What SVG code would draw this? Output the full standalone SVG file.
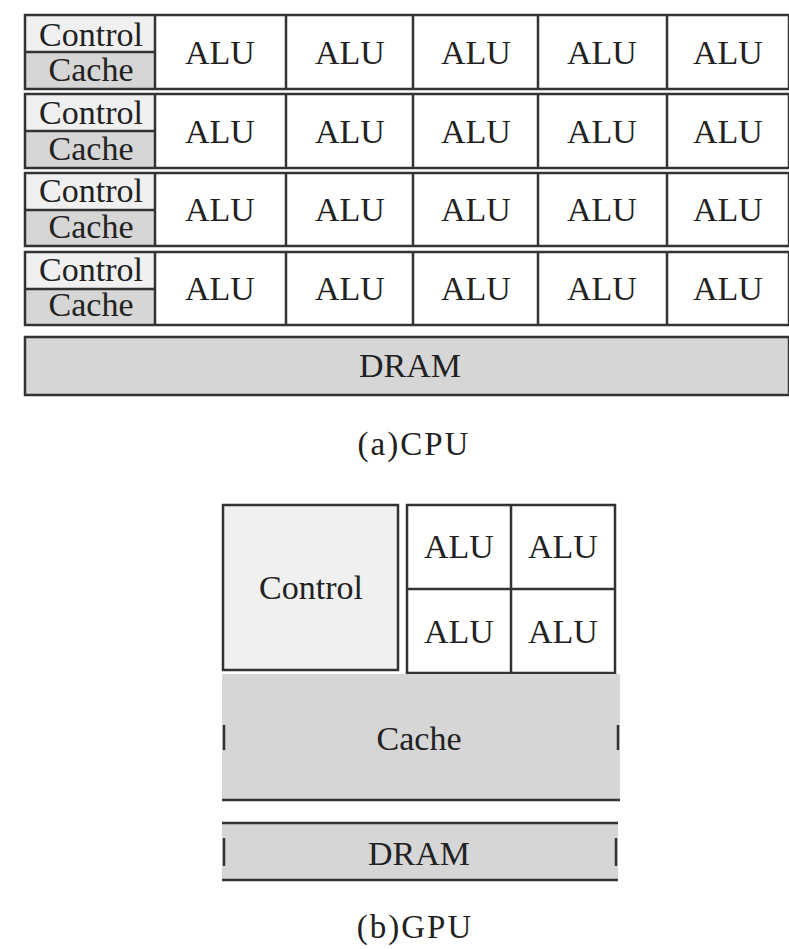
<svg xmlns="http://www.w3.org/2000/svg" width="789" height="949" viewBox="0 0 789 949" font-family="'Liberation Serif', 'Noto Sans CJK SC', serif">
<style>
text{font-family:"Liberation Serif","Noto Sans CJK SC",serif;fill:#222;text-anchor:middle;dominant-baseline:central}
.t{font-size:34px}
.cap{font-size:33px;letter-spacing:2px}
.b{stroke:#333;stroke-width:2.5;fill:none}
.w{fill:#fff}
.g{fill:#d6d6d6}
.lg{fill:#f0f0f0}
</style>
<rect width="789" height="949" fill="#fff"/>
<g id="cpu">
  <g id="cpu-row1">
    <rect class="lg" x="25" y="15" width="130" height="37"/>
    <rect class="g" x="25" y="52" width="130" height="37"/>
    <rect class="b" x="25" y="15" width="764" height="74"/>
    <line class="b" x1="25" y1="52" x2="155" y2="52"/>
    <text class="t" x="91" y="34">Control</text><text class="t" x="91" y="69">Cache</text>
  </g>
  <g id="cpu-row2">
    <rect class="lg" x="25" y="94" width="130" height="37"/>
    <rect class="g" x="25" y="131" width="130" height="37"/>
    <rect class="b" x="25" y="94" width="764" height="74"/>
    <line class="b" x1="25" y1="131" x2="155" y2="131"/>
    <text class="t" x="91" y="112">Control</text><text class="t" x="91" y="148">Cache</text>
  </g>
  <g id="cpu-row3">
    <rect class="lg" x="25" y="173" width="130" height="37"/>
    <rect class="g" x="25" y="210" width="130" height="36"/>
    <rect class="b" x="25" y="173" width="764" height="73"/>
    <line class="b" x1="25" y1="210" x2="155" y2="210"/>
    <text class="t" x="91" y="190">Control</text><text class="t" x="91" y="226">Cache</text>
  </g>
  <g id="cpu-row4">
    <rect class="lg" x="25" y="252" width="130" height="37"/>
    <rect class="g" x="25" y="289" width="130" height="36"/>
    <rect class="b" x="25" y="252" width="764" height="73"/>
    <line class="b" x1="25" y1="289" x2="155" y2="289"/>
    <text class="t" x="91" y="269">Control</text><text class="t" x="91" y="304">Cache</text>
  </g>
  <g id="cpu-cols">
    <path class="b" d="M155 15V89M286 15V89M413 15V89M538 15V89M667 15V89M155 94V168M286 94V168M413 94V168M538 94V168M667 94V168M155 173V246M286 173V246M413 173V246M538 173V246M667 173V246M155 252V325M286 252V325M413 252V325M538 252V325M667 252V325"/>
  </g>
  <g id="cpu-alus">
    <text class="t" x="220" y="52">ALU</text><text class="t" x="350" y="52">ALU</text><text class="t" x="476" y="52">ALU</text><text class="t" x="602" y="52">ALU</text><text class="t" x="728" y="52">ALU</text>
    <text class="t" x="220" y="131">ALU</text><text class="t" x="350" y="131">ALU</text><text class="t" x="476" y="131">ALU</text><text class="t" x="602" y="131">ALU</text><text class="t" x="728" y="131">ALU</text>
    <text class="t" x="220" y="209">ALU</text><text class="t" x="350" y="209">ALU</text><text class="t" x="476" y="209">ALU</text><text class="t" x="602" y="209">ALU</text><text class="t" x="728" y="209">ALU</text>
    <text class="t" x="220" y="288">ALU</text><text class="t" x="350" y="288">ALU</text><text class="t" x="476" y="288">ALU</text><text class="t" x="602" y="288">ALU</text><text class="t" x="728" y="288">ALU</text>
  </g>
  <g id="cpu-dram">
    <rect class="g" x="25" y="337" width="764" height="58"/>
    <rect class="b" x="25" y="337" width="764" height="58"/>
    <text class="t" x="410" y="365">DRAM</text>
  </g>
  <text class="cap" x="414" y="444">(a)CPU</text>
</g>
<g id="gpu">
  <g id="gpu-control">
    <rect class="lg" x="223" y="505" width="175" height="165"/>
    <rect class="b" x="223" y="505" width="175" height="165"/>
    <text class="t" x="311" y="587">Control</text>
  </g>
  <g id="gpu-alus">
    <rect class="w" x="407" y="505" width="208" height="168"/>
    <rect class="b" x="407" y="505" width="208" height="168"/>
    <path class="b" d="M511 505V673M407 589H615"/>
    <text class="t" x="459" y="546">ALU</text><text class="t" x="563" y="546">ALU</text>
    <text class="t" x="459" y="631">ALU</text><text class="t" x="563" y="631">ALU</text>
  </g>
  <g id="gpu-cache">
    <rect class="g" x="222" y="674" width="398" height="126"/>
    <path class="b" d="M222 800H620M224 725V750M618 725V750"/>
    <text class="t" x="419" y="738">Cache</text>
  </g>
  <g id="gpu-dram">
    <rect class="g" x="222" y="823" width="396" height="57"/>
    <path class="b" d="M222 823H618M222 880H618M224 838V866M616 838V866"/>
    <text class="t" x="419" y="853">DRAM</text>
  </g>
  <text class="cap" x="415" y="927">(b)GPU</text>
</g>
</svg>
